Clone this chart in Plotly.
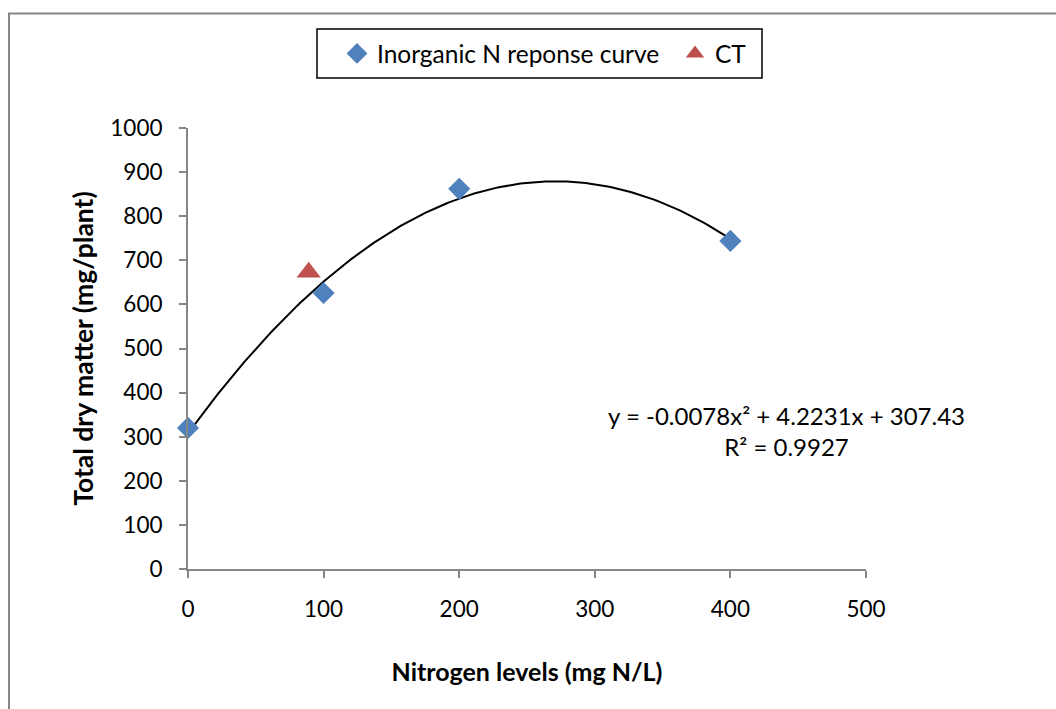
import numpy as np
import plotly.graph_objects as go

# Data
n_levels = [0, 100, 200, 400]
dry_matter = [320, 626, 862, 744]
ct_level = [89]
ct_dry_matter = [673]
fit_coef = [-0.0078, 4.2231, 307.43]  # quadratic trendline shown on the chart
x_ticks = [0, 100, 200, 300, 400, 500]
y_ticks = list(range(0, 1001, 100))

FONT = "Lato"
W, H = 1056, 709
L, R, T, B = 188, 190, 128, 140
PW, PH = W - L - R, H - T - B

def px_x(p):
    return (p - L) / PW

def px_y(p):
    return (H - B - p) / PH

xs = np.linspace(0, 400, 200)
ys = np.polyval(fit_coef, xs)

fig = go.Figure()
fig.add_trace(go.Scatter(x=xs, y=ys, mode="lines", line=dict(color="black", width=2),
                         showlegend=False, hoverinfo="skip", cliponaxis=False))
fig.add_trace(go.Scatter(x=n_levels, y=dry_matter, mode="markers", name="Inorganic N reponse curve",
                         marker=dict(symbol="diamond", size=17, color="#4F81BD"), cliponaxis=False))
fig.add_trace(go.Scatter(x=ct_level, y=ct_dry_matter, mode="markers", name="CT",
                         marker=dict(symbol="triangle-up", size=21, color="#C0504D"), cliponaxis=False))

axis_common = dict(showgrid=False, zeroline=False, showline=True, linecolor="#868686", linewidth=2,
                   ticks="outside", ticklen=7, tickcolor="#868686", tickwidth=2,
                   tickfont=dict(family=FONT, size=22.5, color="black"))

fig.update_xaxes(range=[0, 500], tickvals=x_ticks, ticklabelstandoff=12,
                 title=dict(text="<b>Nitrogen levels (mg N/L)</b>", font=dict(family=FONT, size=25, color="black"),
                            standoff=42),
                 **axis_common)
fig.update_yaxes(range=[0, 1000], tickvals=y_ticks, ticklabelstandoff=12,
                 title=dict(text="<b>Total dry matter (mg/plant)</b>", font=dict(family=FONT, size=26.5, color="black"),
                            standoff=9),
                 **axis_common)

fig.add_annotation(x=441, y=313, xref="x", yref="y", showarrow=False, align="center",
                   text="y = -0.0078x² + 4.2231x + 307.43<br>R² = 0.9927",
                   font=dict(family=FONT, size=24, color="black"))

# chart area border and legend box
fig.add_shape(type="rect", xref="paper", yref="paper", x0=px_x(9), x1=px_x(1070), y0=px_y(13.5), y1=px_y(720),
              line=dict(color="#868686", width=2), fillcolor="rgba(0,0,0,0)", layer="below")
fig.add_shape(type="rect", xref="paper", yref="paper", x0=px_x(317), x1=px_x(762), y0=px_y(29), y1=px_y(78),
              line=dict(color="black", width=1.5), fillcolor="rgba(0,0,0,0)")

fig.update_layout(
    width=W, height=H,
    margin=dict(l=L, r=R, t=T, b=B),
    paper_bgcolor="white", plot_bgcolor="white",
    font=dict(family=FONT, size=22, color="black"),
    legend=dict(orientation="h", x=px_x(337), y=px_y(53.5), xanchor="left", yanchor="middle",
                bgcolor="rgba(0,0,0,0)", borderwidth=0, font=dict(family=FONT, size=24.5, color="black"),
                itemwidth=30, entrywidth=293, entrywidthmode="pixels"),
)

fig.write_html("out.html")
